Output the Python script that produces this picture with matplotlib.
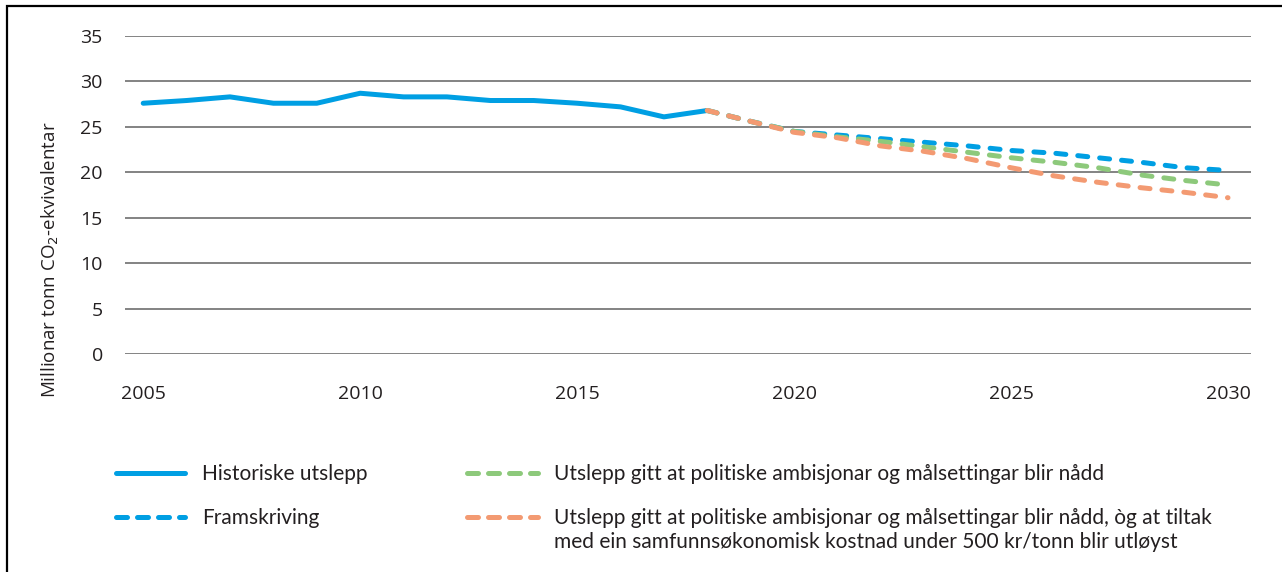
import matplotlib as mpl
mpl.use('Agg')
import matplotlib.pyplot as plt
from matplotlib.lines import Line2D
from matplotlib.patches import Rectangle

# data
hist_years = list(range(2005, 2019))
hist_vals = [27.6, 27.9, 28.3, 27.6, 27.6, 28.7, 28.3, 28.3, 27.9, 27.9, 27.6, 27.2, 26.1, 26.8]

proj_years = list(range(2018, 2031))
framskriving = [26.8, 25.6, 24.5, 24.1, 23.7, 23.3, 22.9, 22.4, 22.1, 21.6, 21.1, 20.5, 20.2]
ambisjonar = [26.8, 25.6, 24.5, 23.9, 23.4, 22.8, 22.2, 21.6, 21.1, 20.5, 19.7, 19.1, 18.6]
tiltak = [26.8, 25.6, 24.4, 23.8, 22.9, 22.3, 21.5, 20.5, 19.6, 18.9, 18.3, 17.8, 17.2]

x_ticks = [2005, 2010, 2015, 2020, 2025, 2030]
y_ticks = [0, 5, 10, 15, 20, 25, 30, 35]

labels = ['Historiske utslepp', 'Framskriving',
          'Utslepp gitt at politiske ambisjonar og målsettingar blir nådd',
          'Utslepp gitt at politiske ambisjonar og målsettingar blir nådd, òg at tiltak']
label_extra = 'med ein samfunnsøkonomisk kostnad under 500 kr/tonn blir utløyst'

BLUE = '#009fe3'
GREEN = '#8dc97b'
ORANGE = '#f39a72'
TXT = '#231f20'
LW = 3.6
dash = (0, (2.0, 2.4))

plt.rcParams['font.family'] = ['Open Sans', 'DejaVu Sans']

fig = plt.figure(figsize=(12.82, 5.72), dpi=100)
ax = fig.add_axes([125 / 1282, 1 - 354 / 572, 1126 / 1282, 318 / 572])

ax.plot(hist_years, hist_vals, color=BLUE, lw=LW, solid_capstyle='round', zorder=3)
ax.plot(proj_years, framskriving, color=BLUE, lw=LW, ls=dash, dash_capstyle='round', zorder=4)
ax.plot(proj_years, ambisjonar, color=GREEN, lw=LW, ls=dash, dash_capstyle='round', zorder=5)
ax.plot(proj_years, tiltak, color=ORANGE, lw=LW, ls=dash, dash_capstyle='round', zorder=6)

ax.set_xlim(2004.58, 2030.53)
ax.set_ylim(0, 35)
ax.set_xticks(x_ticks)
ax.set_yticks(y_ticks)
ax.grid(axis='y', color='#7a7a7a', lw=1.3)
ax.set_axisbelow(True)
for s in ax.spines.values():
    s.set_visible(False)
ax.tick_params(length=0, labelsize=14, colors=TXT)
ax.tick_params(axis='y', pad=16)
ax.tick_params(axis='x', pad=22.5)

ax.set_ylabel('Millionar tonn CO$_2$-ekvivalentar', fontsize=13.5, color=TXT)
ax.yaxis.set_label_coords(-0.057, 0.295)

# legend, two columns
lfont = {'family': ['Lato', 'DejaVu Sans'], 'size': 15}
hdash = (0, (2.2, 2.0))
h = [Line2D([], [], color=BLUE, lw=LW, solid_capstyle='round'),
     Line2D([], [], color=BLUE, lw=LW, ls=hdash, dash_capstyle='round'),
     Line2D([], [], color=GREEN, lw=LW, ls=hdash, dash_capstyle='round'),
     Line2D([], [], color=ORANGE, lw=LW, ls=hdash, dash_capstyle='round')]
leg1 = fig.legend(h[:2], labels[:2], loc='upper left', bbox_to_anchor=(116 / 1282, 1 - 464 / 572),
                  frameon=False, handlelength=3.3, handletextpad=0.85, labelspacing=1.15,
                  prop=lfont, labelcolor=TXT, borderaxespad=0, borderpad=0)
leg2 = fig.legend(h[2:], labels[2:], loc='upper left', bbox_to_anchor=(467 / 1282, 1 - 464 / 572),
                  frameon=False, handlelength=3.4, handletextpad=0.8, labelspacing=1.15,
                  prop=lfont, labelcolor=TXT, borderaxespad=0, borderpad=0)
fig.canvas.draw()
ax.annotate(label_extra, xy=(0, 0), xycoords=leg2.get_texts()[1], xytext=(0, -3),
            textcoords='offset points', va='top', ha='left', color=TXT,
            fontfamily=lfont['family'], fontsize=lfont['size'], annotation_clip=False)

# frame around the figure (left and top edges visible)
fig.add_artist(Rectangle((6.5 / 1282, -0.1), 1.2, 1.1 - 5.5 / 572, transform=fig.transFigure,
                         fill=False, edgecolor='black', lw=1.6, clip_on=False))

fig.savefig('out.png', dpi=100)
